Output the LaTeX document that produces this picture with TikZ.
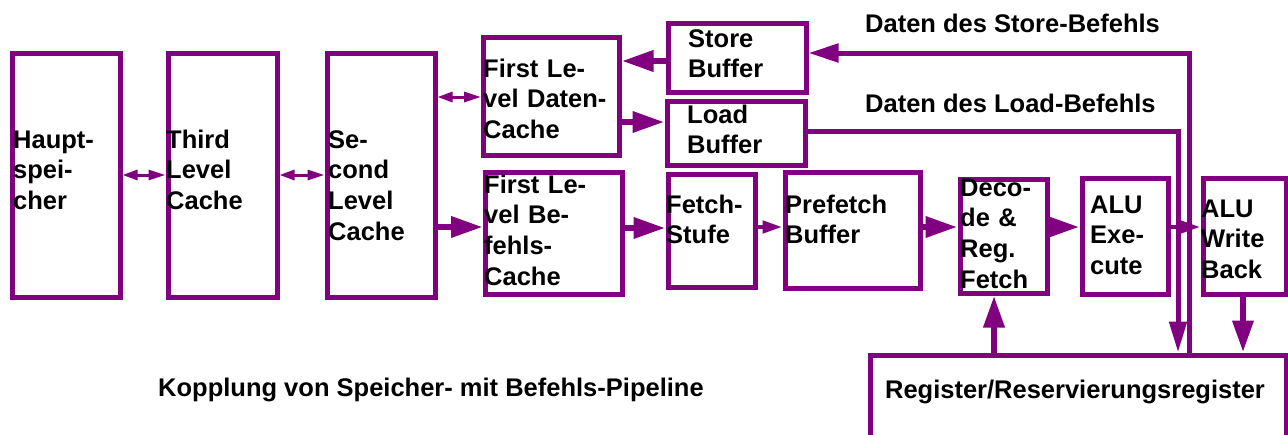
\documentclass[tikz,border=0pt]{standalone}
\usepackage{fontspec}
\setmainfont{Liberation Sans}
\usetikzlibrary{arrows.meta}
\definecolor{pur}{RGB}{128,0,128}
\begin{document}
\begin{tikzpicture}[x=1pt,y=-1pt,
  box/.style={draw=pur,line width=5pt,rectangle,inner sep=0pt,anchor=north west},
  txt/.style={anchor=base west,inner sep=0pt,align=left,text width=150pt,font=\bfseries\fontsize{25.5}{30.7}\selectfont},
  lab/.style={anchor=base west,inner sep=0pt,font=\bfseries\fontsize{25.5}{30.7}\selectfont},
  big/.style={draw=pur,line width=6.5pt,-{Triangle[length=32pt,width=20pt]}},
  small/.style={draw=pur,line width=4.5pt,-{Triangle[length=20pt,width=12pt]}},
  dbl/.style={draw=pur,line width=3pt,{Triangle[length=15pt,width=10pt]}-{Triangle[length=17pt,width=10pt]}},
  wire/.style={draw=pur,line width=5pt}
]
\useasboundingbox (0,0) rectangle (1288,434);

% boxes
\node[box,minimum width=108pt,minimum height=244pt] (haupt) at (9.5,50.5) {};
\node[box,minimum width=109pt,minimum height=244pt] (third) at (165.5,50.5) {};
\node[box,minimum width=108pt,minimum height=244pt] (second) at (324.5,50.5) {};
\node[box,minimum width=135.5pt,minimum height=118.5pt] (daten) at (481,34.5) {};
\node[box,minimum width=138pt,minimum height=69pt] (store) at (665.5,20.5) {};
\node[box,minimum width=138pt,minimum height=64pt] (load) at (664.5,98.5) {};
\node[box,minimum width=136.5pt,minimum height=122pt] (befehl) at (483,170) {};
\node[box,minimum width=87pt,minimum height=113.5pt] (fetch) at (665.5,171.5) {};
\node[box,minimum width=135pt,minimum height=115.5pt] (prefetch) at (782.5,170) {};
\node[box,minimum width=87pt,minimum height=114pt] (decode) at (957.5,176.5) {};
\node[box,minimum width=86pt,minimum height=116pt] (exec) at (1079.5,175.5) {};
\node[box,minimum width=83pt,minimum height=116pt] (wb) at (1200.5,175.5) {};
\node[box,minimum width=416pt,minimum height=100pt] (reg) at (867.5,352.5) {};

% texts
\node[txt] (thaupt) at (13,148) {Haupt-\\spei-\\cher};
\node[txt] (tthird) at (166,148) {Third\\Level\\Cache};
\node[txt] (tsecond) at (328,148) {Se-\\cond\\Level\\Cache};
\node[txt] (tdaten) at (483,77) {First Le-\\vel Daten-\\Cache};
\node[txt] (tstore) at (688,47) {Store\\Buffer};
\node[txt] (tload) at (687,123) {Load\\Buffer};
\node[txt] (tbefehl) at (484,193) {First Le-\\vel Be-\\fehls-\\Cache};
\node[txt] (tfetch) at (666,213) {Fetch-\\Stufe};
\node[txt] (tprefetch) at (785,213) {Prefetch\\Buffer};
\node[txt] (tdecode) at (960,196) {Deco-\\de \&\\Reg.\\Fetch};
\node[txt] (texec) at (1090,213) {ALU\\Exe-\\cute};
\node[txt] (twb) at (1201,217) {ALU\\Write\\Back};

\node[lab] (lstore) at (865,32) {Daten des Store-Befehls};
\node[lab] (lload) at (865,112) {Daten des Load-Befehls};
\node[lab] (title) at (158,396) {Kopplung von Speicher- mit Befehls-Pipeline};
\node[lab,anchor=base] (treg) at (1075,398) {Register/Reservierungsregister};

% connectors
\draw[dbl] (haupt.east) -- (third.west);
\draw[dbl] (third.east) -- (second.west);
\draw[dbl] (second.east |- 0,97) -- (daten.west |- 0,97);
\draw[big] (second.east |- 0,227) -- (befehl.west |- 0,227);
\draw[big] (store.west |- 0,61) -- (daten.east |- 0,61);
\draw[big] (daten.east |- 0,122) -- (load.west |- 0,122);
\draw[big] (befehl.east |- 0,228) -- (fetch.west |- 0,228);
\draw[small] (fetch.east |- 0,227) -- (prefetch.west |- 0,227);
\draw[big] (prefetch.east |- 0,227) -- (decode.west |- 0,227);
\draw[big] (decode.east |- 0,227) -- (exec.west |- 0,227);
\draw[small] (exec.east |- 0,227) -- (wb.west |- 0,227);
\draw[big] (wb.south -| 1243,0) -- (reg.north -| 1243,0);
\draw[big] (reg.north -| 994,0) -- (decode.south -| 994,0);
\draw[wire,-{Triangle[length=30pt,width=18pt]}] (reg.north -| 1189,0) |- (store.east |- 0,53);
\draw[wire,-{Triangle[length=31pt,width=17pt]}] (load.east |- 0,131) -| (reg.north -| 1178,0);
\end{tikzpicture}
\end{document}
